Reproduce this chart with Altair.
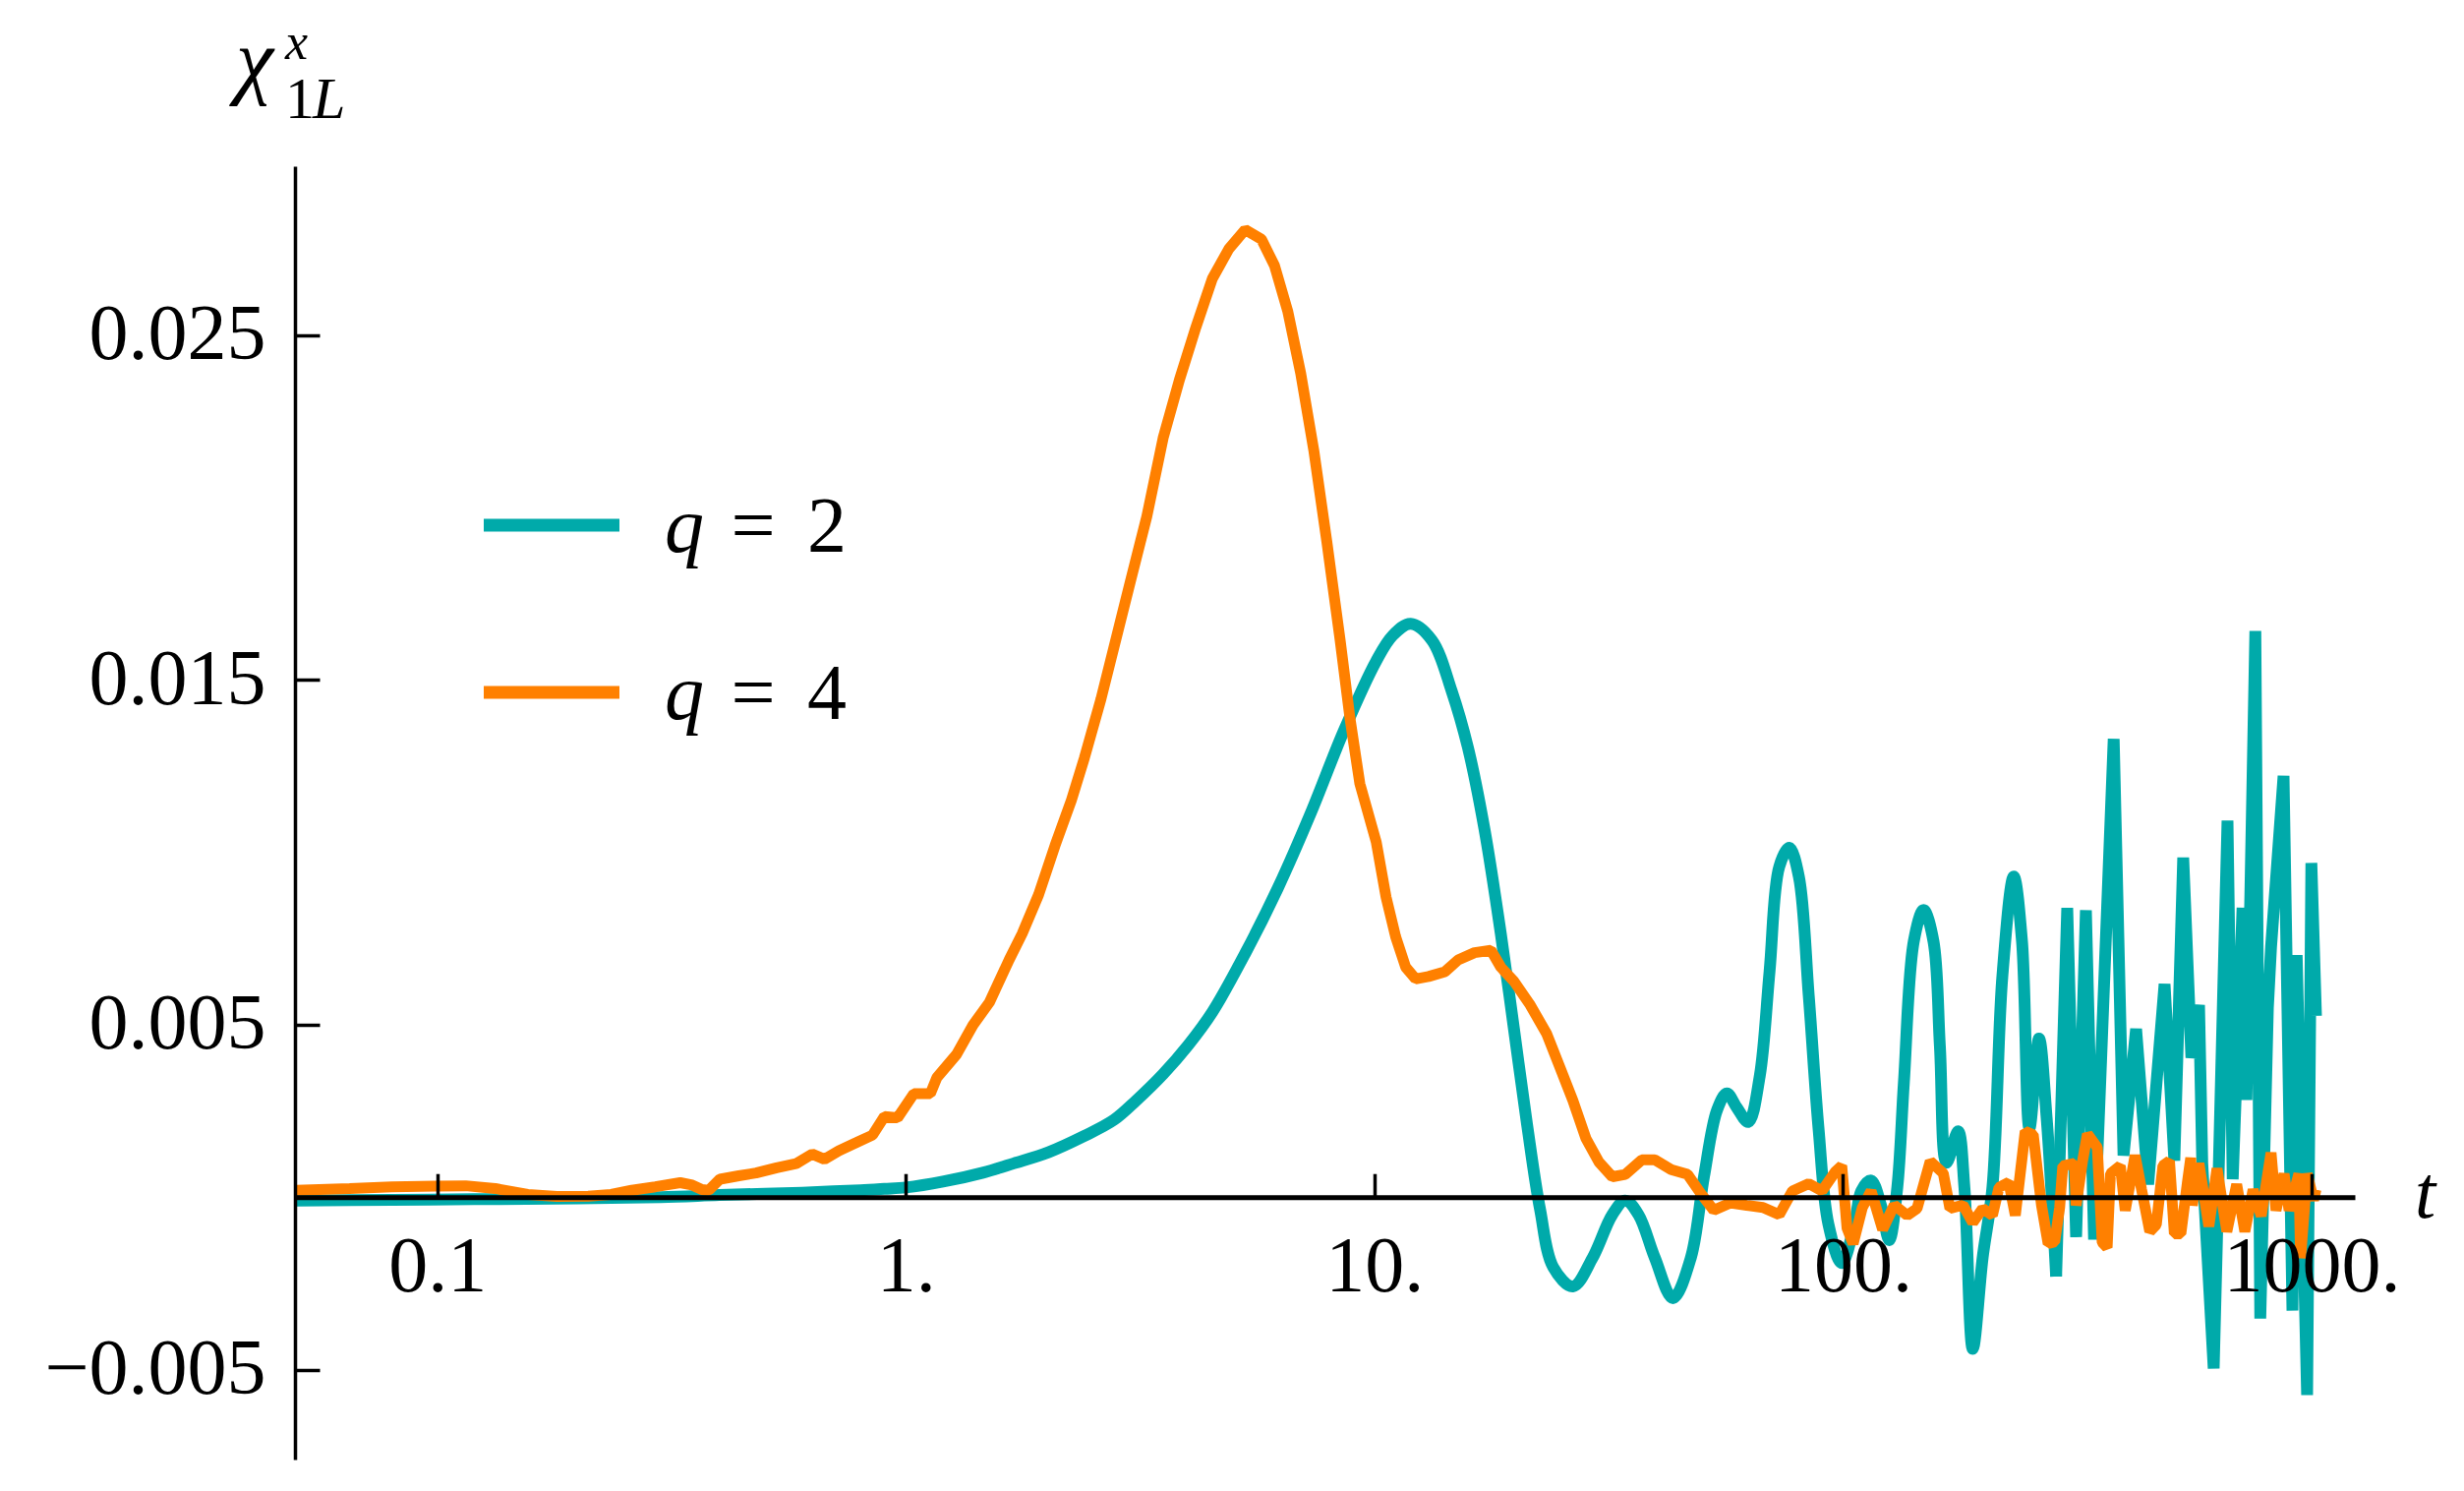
import altair as alt
import pandas as pd

# ---------------- data ----------------
SERIES = ["q = 2", "q = 4"]
COLORS = ["#00AAAA", "#FF8000"]

# q = 2 (teal): time t and value in units of 1e-3
Q2_T = [0.05, 0.08, 0.12, 0.2, 0.3, 0.4, 0.5, 0.6, 0.7, 0.8, 0.9, 1.0, 1.2, 1.46, 1.7,
        2.015, 2.4, 2.78, 3.1, 3.54, 4.0, 4.51, 5.30, 6.22, 7.31, 8.59, 10.09, 10.94,
        11.95, 13.27, 14.61, 15.84, 17.17, 18.61, 19.85, 21.17, 22.58, 24.07, 26.52,
        29.22, 32.18, 34.30, 36.61, 39.67, 43.35, 47.34, 50.5, 53.86, 56.53, 59.34,
        62.78, 66.41, 69.7, 73.1, 76.8, 80.5, 84.5, 88.7, 93.1, 99.4, 106.0, 109.4,
        114.8, 120.5, 125.5, 130.6, 134.9, 141.6, 148.6, 156.0, 161.0, 166.3, 176.0,
        181.6, 189.2, 198.6, 208.4, 218.8, 231.4, 241.0, 250.0, 262.0, 272.0, 285.0,
        301.0, 314.4, 329.9, 343.4, 378.2, 396.9, 422.2, 448.0, 485.6, 509.5, 532.2,
        554.0, 575.2, 584.4, 618.2, 661.6, 678.7, 712.3, 726.2, 758.6, 777.2, 806.7,
        819.4, 871.4, 910.3, 929.4, 978.3, 999.0, 1021.9]
Q2_V_MILLI = [-0.10, -0.08, -0.06, -0.04, 0.0, 0.06, 0.10, 0.13, 0.17, 0.20, 0.24, 0.28,
              0.45, 0.71, 0.98, 1.30, 1.77, 2.24, 2.80, 3.57, 4.40, 5.37, 7.07, 8.96,
              11.13, 13.50, 15.55, 16.29, 16.63, 16.15, 14.69, 13.03, 10.68, 7.64, 4.88,
              2.11, -0.37, -2.03, -2.59, -1.76, -0.51, -0.10, -0.51, -1.76, -2.93, -1.76,
              0.59, 2.53, 3.01, 2.60, 2.18, 3.50, 6.54, 9.58, 10.13, 9.30, 5.85, 1.97,
              -0.79, -1.91, -0.74, 0.18, 0.48, -0.23, -1.25, 0.29, 3.34, 7.42, 8.33, 7.42,
              4.36, 1.00, 1.91, 0.28, -4.40, -1.76, 0.28, 6.39, 9.30, 7.42, 2.0, 4.6, 2.3,
              -2.30, 8.39, -1.16, 8.32, -1.23, 13.29, 1.21, 4.88, 0.37, 6.18, 1.06, 9.85,
              4.04, 5.57, 0.98, -4.97, 10.92, 0.52, 8.39, 2.82, 16.42, -3.52, 5.49, 7.25,
              12.22, -3.29, 7.02, -5.74, 9.69, 5.26]

# q = 4 (orange): time t and value in units of 1e-3
Q4_T = [0.05, 0.065, 0.08, 0.099, 0.115, 0.133, 0.156, 0.18, 0.21, 0.235, 0.26, 0.292,
        0.33, 0.35, 0.367, 0.38, 0.401, 0.44, 0.479, 0.53, 0.583, 0.631, 0.67, 0.72,
        0.784, 0.849, 0.90, 0.96, 1.04, 1.128, 1.165, 1.283, 1.391, 1.508, 1.661,
        1.771, 1.920, 2.081, 2.256, 2.405, 2.608, 2.827, 3.014, 3.268, 3.54, 3.837,
        4.16, 4.51, 4.89, 5.30, 5.74, 6.12, 6.53, 6.96, 7.43, 7.92, 8.45, 8.87, 9.31,
        10.09, 10.59, 11.1, 11.66, 12.24, 13.05, 14.15, 15.09, 16.36, 17.73, 18.61,
        19.85, 21.51, 23.31, 24.87, 26.52, 28.28, 30.17, 32.18, 34.30, 37.2, 39.67,
        43.0, 46.6, 49.7, 53.0, 57.4, 62.3, 67.5, 73.1, 78.0, 84.5, 90.2, 96.2, 99.4,
        102.0, 105.1, 110.0, 114.8, 121.5, 128.6, 137.1, 143.9, 153.5, 163.7, 169.1,
        180.3, 189.2, 198.6, 208.4, 215.2, 225.9, 233.2, 244.8, 254.7, 265.2, 274.0,
        283.0, 290.0, 294.5, 311.9, 314.4, 324.5, 332.4, 348.9, 357.4, 366.2, 372.2,
        390.7, 400.3, 420.1, 433.7, 451.6, 466.3, 481.6, 497.5, 509.5, 526.1, 543.5,
        552.2, 556.7, 575.0, 603.6, 628.3, 659.4, 692.1, 720.4, 750.2, 780.7, 819.4,
        839.5, 873.7, 895.3, 939.5, 947.3, 978.3, 1010.0, 1022.0]
Q4_V_MILLI = [0.20, 0.25, 0.30, 0.32, 0.33, 0.25, 0.08, 0.02, 0.03, 0.08, 0.20, 0.30,
              0.42, 0.35, 0.22, 0.20, 0.52, 0.62, 0.70, 0.85, 0.97, 1.25, 1.10, 1.35,
              1.58, 1.80, 2.34, 2.30, 3.00, 3.00, 3.47, 4.14, 4.99, 5.65, 6.88, 7.64,
              8.77, 10.19, 11.51, 12.74, 14.44, 16.34, 17.85, 19.74, 22.01, 23.71, 25.23,
              26.64, 27.50, 28.06, 27.78, 27.02, 25.70, 23.90, 21.63, 18.98, 16.15, 13.88,
              11.99, 10.30, 8.70, 7.55, 6.67, 6.33, 6.40, 6.54, 6.88, 7.09, 7.16, 6.67,
              6.26, 5.57, 4.74, 3.77, 2.80, 1.70, 1.01, 0.59, 0.66, 1.08, 1.08, 0.80,
              0.66, 0.11, -0.38, -0.17, -0.24, -0.30, -0.51, 0.18, 0.39, 0.18, 0.73, 0.91,
              -0.90, -1.35, -0.30, 0.18, -0.94, -0.23, -0.53, -0.33, 1.04, 0.69, -0.33,
              -0.23, -0.74, -0.33, -0.53, 0.28, 0.43, -0.53, 1.91, 1.81, -0.23, -1.35,
              -1.30, -0.30, 0.91, 0.98, -0.24, 1.05, 1.83, 1.44, -1.31, -1.46, 0.68,
              0.91, -0.39, 1.21, 0.22, -1.00, -0.80, 0.91, 1.05, -1.06, -1.06, 0.45,
              1.14, -0.24, 0.98, -0.85, 0.83, -1.00, 0.37, -1.00, 0.22, -0.55, 1.29,
              -0.39, 0.68, -0.39, 0.68, -1.77, 0.68, -0.09, 0.22]

X_TICKS = [0.1, 1, 10, 100, 1000]
X_TICK_LABELS = ["0.1", "1.", "10.", "100.", "1000."]
Y_TICKS = [0.025, 0.015, 0.005, -0.005]
Y_TICK_LABELS = ["0.025", "0.015", "0.005", "\u22120.005"]

X_DOMAIN = [0.0497, 1237]
Y_DOMAIN = [-0.00761, 0.0299]
SPLIT_T = 285.0  # smooth part of the q=2 curve ends here, spiky part begins

# ---------------- layout / style ----------------
PLOT_W = 2095
PLOT_H = 1315
FONT = "Liberation Serif"
FS = 80

y_span = Y_DOMAIN[1] - Y_DOMAIN[0]
zero_px = PLOT_H * Y_DOMAIN[1] / y_span          # pixel row of y = 0
bottom_offset = -(PLOT_H - zero_px)                # move bottom axis up to y = 0
top_offset = -zero_px                              # move top axis down to y = 0


def label_expr(values, labels):
    expr = "''"
    for v, l in reversed(list(zip(values, labels))):
        tol = abs(v) * 1e-6 + 1e-12
        expr = f"(abs(datum.value - ({v})) < {tol}) ? '{l}' : {expr}"
    return expr


q2 = pd.DataFrame({"t": Q2_T, "v": [m / 1000.0 for m in Q2_V_MILLI], "series": SERIES[0]})
q4 = pd.DataFrame({"t": Q4_T, "v": [m / 1000.0 for m in Q4_V_MILLI], "series": SERIES[1]})
q2_smooth = q2[q2["t"] <= SPLIT_T]
q2_spiky = q2[q2["t"] >= SPLIT_T]

xscale = alt.Scale(type="log", domain=X_DOMAIN, nice=False)
yscale = alt.Scale(domain=Y_DOMAIN, nice=False, zero=False)
cscale = alt.Scale(domain=SERIES, range=COLORS)

x_bottom = alt.Axis(orient="bottom", values=X_TICKS, labelExpr=label_expr(X_TICKS, X_TICK_LABELS),
                    ticks=False, tickSize=0, domain=True, domainColor="black", domainWidth=5,
                    labelFont=FONT, labelFontSize=FS, labelColor="black", labelPadding=32,
                    labelBaseline="top", labelAlign="center", labelOverlap=False,
                    labelFlush=False, labelLimit=0, grid=False, title=None,
                    offset=bottom_offset, zindex=2)
y_left = alt.Axis(orient="left", values=Y_TICKS, labelExpr=label_expr(Y_TICKS, Y_TICK_LABELS),
                  ticks=False, tickSize=0, domain=True, domainColor="black", domainWidth=3.5,
                  labelFont=FONT, labelFontSize=FS, labelColor="black", labelPadding=30,
                  labelBaseline="middle", labelAlign="right", labelOverlap=False,
                  labelFlush=False, labelLimit=0, grid=False, title=None, zindex=2)
x_top = alt.Axis(orient="top", values=X_TICKS, labels=False, domain=False, ticks=True,
                 tickSize=24, tickWidth=3.5, tickColor="black", grid=False, title=None,
                 offset=top_offset, zindex=2)
y_right = alt.Axis(orient="right", values=Y_TICKS, labels=False, domain=False, ticks=True,
                   tickSize=25, tickWidth=3.5, tickColor="black", grid=False, title=None,
                   offset=-PLOT_W, zindex=2)

line_teal_smooth = alt.Chart(q2_smooth).mark_line(
    strokeWidth=12, interpolate="catmull-rom", strokeJoin="round"
).encode(
    x=alt.X("t:Q", scale=xscale, axis=x_bottom),
    y=alt.Y("v:Q", scale=yscale, axis=y_left),
    color=alt.Color("series:N", scale=cscale, legend=None),
)

line_teal_spiky = alt.Chart(q2_spiky).mark_line(
    strokeWidth=12, interpolate="linear", strokeJoin="bevel"
).encode(
    x=alt.X("t:Q", scale=xscale, axis=None),
    y=alt.Y("v:Q", scale=yscale, axis=None),
    color=alt.Color("series:N", scale=cscale, legend=None),
)

line_orange = alt.Chart(q4).mark_line(
    strokeWidth=11, interpolate="linear", strokeJoin="bevel"
).encode(
    x=alt.X("t:Q", scale=xscale, axis=x_top),
    y=alt.Y("v:Q", scale=yscale, axis=y_right),
    color=alt.Color("series:N", scale=cscale, legend=None),
)


def txt(text, x, y, size, italic=False, align="left", baseline="alphabetic"):
    return alt.Chart(pd.DataFrame({"label": [text]})).mark_text(
        align=align, baseline=baseline, font=FONT, fontSize=size,
        fontStyle="italic" if italic else "normal", color="black"
    ).encode(x=alt.value(x), y=alt.value(y), text="label:N")


annotations = [
    # y-axis title  chi^x_{1L}
    txt("\u03c7", -60, -80, 86, italic=True),
    txt("x", -10, -109, 52, italic=True),
    txt("1", -10, -49, 60),
    txt("L", 18, -49, 60, italic=True),
    # x-axis title t
    txt("t", 2156, zero_px + 21, 76, italic=True),
]

# legend (manual, inside the plot)
LEGEND_Y = [365, 535]
for i, (name, col) in enumerate(zip(SERIES, COLORS)):
    ly = LEGEND_Y[i]
    annotations.append(
        alt.Chart(pd.DataFrame({"k": [0]})).mark_rule(color=col, strokeWidth=13, strokeCap="butt")
        .encode(x=alt.value(192), x2=alt.value(330), y=alt.value(ly))
    )
    num = name.split("=")[1].strip()
    annotations.append(txt("q", 376, ly + 27, FS, italic=True))
    annotations.append(txt("=", 466, ly + 27, FS, align="center"))
    annotations.append(txt(num, 541, ly + 27, FS, align="center"))

chart = alt.layer(
    line_teal_smooth, line_teal_spiky, line_orange, *annotations
).resolve_axis(
    x="independent", y="independent"
).properties(
    width=PLOT_W, height=PLOT_H,
    autosize=alt.AutoSizeParams(type="none"),
    padding={"left": 292, "top": 161, "right": 100, "bottom": 16},
    background="white",
).configure_view(stroke=None)

chart.save("out.html", embed_options={"renderer": "svg", "actions": False})
